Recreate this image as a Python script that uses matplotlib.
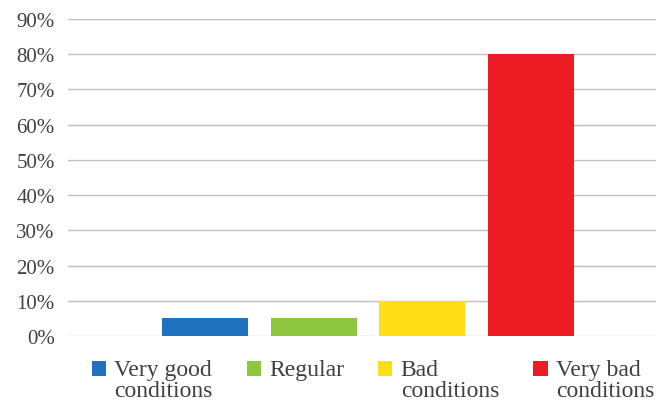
import matplotlib.pyplot as plt
from matplotlib.patches import Rectangle
from matplotlib.container import BarContainer
from matplotlib.legend_handler import HandlerPatch, update_from_first_child
from matplotlib.ticker import PercentFormatter

labels = ["Very good\nconditions", "Regular\n ", "Bad\nconditions", "Very bad\nconditions"]
values = [5, 5, 10, 80]
colors = ["#1F72BE", "#8DC63F", "#FFDD17", "#ED1C24"]
yticks = [0, 10, 20, 30, 40, 50, 60, 70, 80, 90]

plt.rcParams["font.family"] = ["Liberation Serif", "DejaVu Serif"]


def top_square(legend, orig_handle, xdescent, ydescent, width, height, fontsize):
    # put the legend square next to the first line of the label
    return Rectangle((-xdescent, -ydescent + 8), width, height)


fig = plt.figure(figsize=(6.6, 4.06), dpi=100)
ax = fig.add_axes([0.103, 0.170, 0.891, 0.781])

for i in range(len(values)):
    ax.bar(i, values[i], width=0.79, color=colors[i], label=labels[i], zorder=3)

ax.set_ylim(0, 90)
ax.set_xlim(-1.26, 4.15)
ax.set_yticks(yticks)
ax.yaxis.set_major_formatter(PercentFormatter(decimals=0))
ax.set_xticks([])
ax.grid(axis="y", color="#BFBFBF", linewidth=1, zorder=0)
ax.tick_params(axis="y", length=0, labelsize=15, labelcolor="#404040", pad=9.5)
for s in ax.spines.values():
    s.set_visible(False)

handler = HandlerPatch(patch_func=top_square, update_func=update_from_first_child)
leg = fig.legend(loc="center", bbox_to_anchor=(0.565, 0.062), ncol=4, frameon=False,
                 fontsize=17, handlelength=0.6, handleheight=0.6,
                 handletextpad=0.35, columnspacing=1.45, labelspacing=0,
                 handler_map={BarContainer: handler})
for t in leg.get_texts():
    t.set_color("#404040")
    t.set_linespacing(1.0)

fig.savefig("out.png", dpi=100)
